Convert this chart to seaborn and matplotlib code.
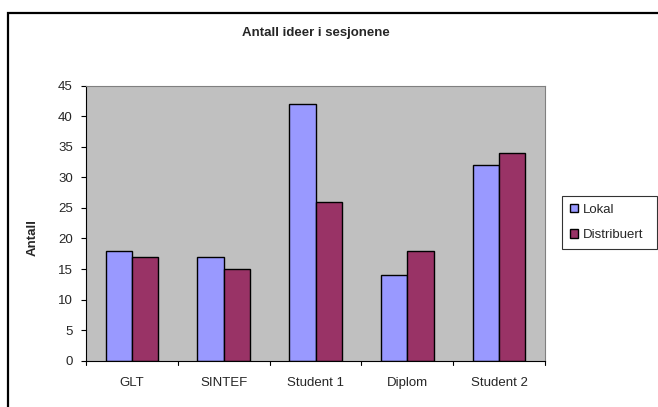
import matplotlib
matplotlib.use("Agg")
import matplotlib.pyplot as plt
import seaborn as sns
import pandas as pd
from matplotlib.patches import Rectangle

categories = ["GLT", "SINTEF", "Student 1", "Diplom", "Student 2"]
lokal = [18, 17, 42, 14, 32]
distribuert = [17, 15, 26, 18, 34]
series_names = ["Lokal", "Distribuert"]
yticks = [0, 5, 10, 15, 20, 25, 30, 35, 40, 45]
title = "Antall ideer i sesjonene"
ylabel = "Antall"

df = pd.DataFrame({
    "cat": categories * 2,
    "val": lokal + distribuert,
    "series": [series_names[0]] * len(categories) + [series_names[1]] * len(categories),
})

sns.set_style("white")
plt.rcParams['font.family'] = ['Liberation Sans', 'DejaVu Sans']

FS = 9.5
W, H = 658, 407
fig = plt.figure(figsize=(W / 100, H / 100), dpi=100)
fig.patch.set_facecolor("white")

# outer chart border (only left & top visible)
fig.patches.append(Rectangle((8 / W, -0.1), 1.2, (H - 12.7) / H + 0.1,
                             transform=fig.transFigure, fill=False,
                             edgecolor="black", linewidth=1.6))

left, right = 86 / W, 545 / W
top, bottom = (H - 85.7) / H, (H - 360.7) / H
ax = fig.add_axes([left, bottom, right - left, top - bottom])
ax.set_facecolor("#C0C0C0")

palette = {"Lokal": "#9999FF", "Distribuert": "#993366"}
sns.barplot(data=df, x="cat", y="val", hue="series", palette=palette,
            width=0.571, gap=0, edgecolor="black", linewidth=1.0,
            saturation=1, ax=ax, legend=True)

ax.set_xlim(-0.5, len(categories) - 0.5)
ax.set_ylim(0, 45)
ax.set_yticks(yticks)
ax.set_yticklabels([str(t) for t in yticks], fontsize=FS)
ax.set_xticks(range(len(categories)))
ax.set_xticklabels(categories, fontsize=FS)
ax.tick_params(axis="x", length=0, pad=12)
ax.tick_params(axis="y", length=3.5, width=0.8, color="black", pad=6, direction="out", left=True)
# category boundary ticks
for b in [i - 0.5 for i in range(len(categories) + 1)]:
    ax.plot([b, b], [0, -0.7], color="black", lw=0.8, clip_on=False)

ax.set_xlabel("")
ax.set_ylabel("")
for s in ["top", "right"]:
    ax.spines[s].set_color("#808080")
    ax.spines[s].set_linewidth(0.8)
for s in ["left", "bottom"]:
    ax.spines[s].set_color("black")
    ax.spines[s].set_linewidth(0.8)

fig.text(316 / W, (H - 33) / H, title, ha="center", va="center",
         fontsize=FS, fontweight="bold")
fig.text(33 / W, (H - 238) / H, ylabel, ha="center", va="center",
         rotation=90, fontsize=FS, fontweight="bold")

leg = ax.legend(loc="center left",
                bbox_to_anchor=(562 / W, (H - 249) / H, 95 / W, 53 / H),
                bbox_transform=fig.transFigure, mode="expand",
                frameon=True, fancybox=False, fontsize=FS, handlelength=0.6,
                handleheight=0.6, handletextpad=0.4, labelspacing=1.0,
                borderaxespad=0, borderpad=0.6)
leg.get_frame().set_edgecolor("black")
leg.get_frame().set_linewidth(0.8)

fig.savefig("out.png", dpi=100)
